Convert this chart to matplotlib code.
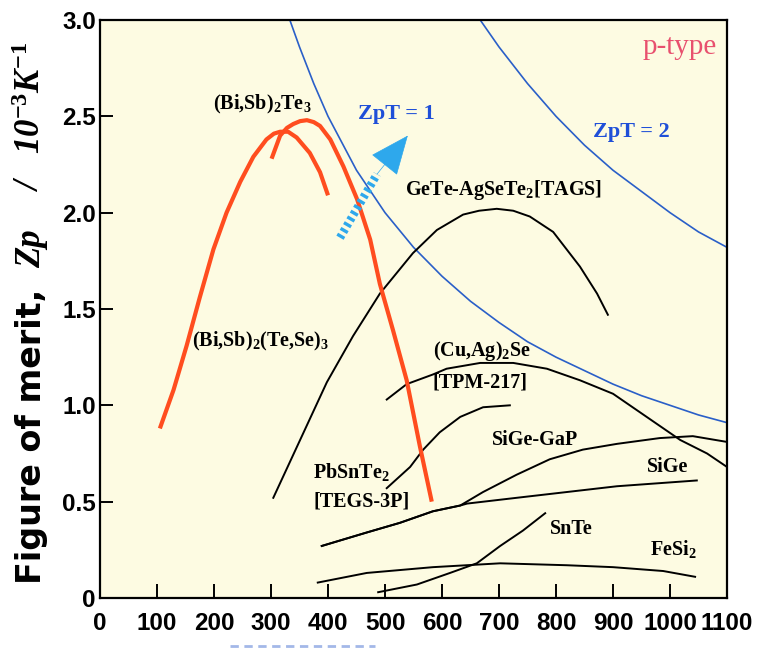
import matplotlib
matplotlib.use("Agg")
import matplotlib.pyplot as plt
from matplotlib.lines import Line2D

# temperatures in K, figure of merit Zp in 1e-3 1/K
bst_T = [105, 129, 152, 175, 199, 222, 246, 269, 292, 305, 316, 330, 345, 368, 386, 400]
bst_Zp = [0.88, 1.08, 1.31, 1.56, 1.81, 2.00, 2.16, 2.29, 2.38, 2.41, 2.42, 2.42, 2.39, 2.31, 2.21, 2.09]

bisbte_T = [301, 316, 328, 339, 351, 363, 375, 386, 404, 427, 451, 474, 491, 514, 538, 561, 582]
bisbte_Zp = [2.28, 2.40, 2.44, 2.46, 2.475, 2.48, 2.47, 2.45, 2.38, 2.24, 2.07, 1.86, 1.63, 1.39, 1.13, 0.79, 0.50]

tags_T = [304, 351, 398, 444, 491, 549, 591, 637, 665, 696, 725, 754, 795, 842, 872, 891]
tags_Zp = [0.52, 0.82, 1.12, 1.36, 1.58, 1.79, 1.91, 1.99, 2.01, 2.02, 2.01, 1.98, 1.90, 1.72, 1.58, 1.47]

cuagse_T = [503, 538, 584, 608, 667, 725, 784, 842, 900, 959, 1018, 1065, 1100]
cuagse_Zp = [1.03, 1.11, 1.16, 1.19, 1.22, 1.22, 1.19, 1.13, 1.06, 0.94, 0.82, 0.75, 0.68]

pbsnte_T = [503, 544, 567, 596, 632, 672, 719]
pbsnte_Zp = [0.57, 0.68, 0.77, 0.86, 0.94, 0.99, 1.00]

sigegap_T = [389, 468, 526, 584, 632, 672, 731, 789, 847, 907, 982, 1040, 1100]
sigegap_Zp = [0.27, 0.34, 0.39, 0.45, 0.48, 0.55, 0.64, 0.72, 0.77, 0.80, 0.83, 0.84, 0.81]

sige_T = [389, 468, 526, 584, 632, 644, 731, 819, 907, 1047]
sige_Zp = [0.27, 0.34, 0.39, 0.45, 0.48, 0.49, 0.52, 0.55, 0.58, 0.61]

snte_T = [488, 556, 614, 661, 702, 742, 781]
snte_Zp = [0.03, 0.07, 0.13, 0.18, 0.27, 0.35, 0.44]

fesi_T = [382, 468, 584, 702, 819, 900, 988, 1044]
fesi_Zp = [0.08, 0.13, 0.16, 0.18, 0.17, 0.16, 0.14, 0.11]

# iso-ZpT guide curves
zt1_T = [333, 350, 375, 400, 450, 500, 550, 600, 650, 700, 750, 800, 850, 900, 950, 1000, 1050, 1100]
zt1_Zp = [3.0, 2.86, 2.67, 2.5, 2.22, 2.0, 1.82, 1.67, 1.54, 1.43, 1.33, 1.25, 1.18, 1.11, 1.05, 1.0, 0.95, 0.91]
zt2_T = [667, 700, 750, 800, 850, 900, 950, 1000, 1050, 1100]
zt2_Zp = [3.0, 2.86, 2.67, 2.5, 2.35, 2.22, 2.11, 2.0, 1.90, 1.82]

x_ticks = [0, 100, 200, 300, 400, 500, 600, 700, 800, 900, 1000, 1100]
y_ticks = [0, 0.5, 1.0, 1.5, 2.0, 2.5, 3.0]
y_ticklabels = ["0", "0.5", "1.0", "1.5", "2.0", "2.5", "3.0"]

arrow_tail = (421, 1.87)
arrow_base = (486, 2.20)
arrow_tip = (540, 2.40)

plt.rcParams["mathtext.fontset"] = "custom"
plt.rcParams["mathtext.rm"] = "Liberation Serif:bold"
plt.rcParams["mathtext.it"] = "Liberation Serif:italic:bold"
plt.rcParams["mathtext.bf"] = "Liberation Serif:bold"

fig = plt.figure(figsize=(7.6, 6.49), dpi=100)
ax = fig.add_axes([0.1316, 0.0786, 0.825, 0.8906])
ax.set_facecolor("#fdfbe2")

orange = "#ff4d1f"
blue = "#2a5fc8"
ax.plot(zt1_T, zt1_Zp, color=blue, lw=1.2)
ax.plot(zt2_T, zt2_Zp, color=blue, lw=1.2)

for T, Z in [(tags_T, tags_Zp), (cuagse_T, cuagse_Zp), (pbsnte_T, pbsnte_Zp),
             (sigegap_T, sigegap_Zp), (sige_T, sige_Zp), (snte_T, snte_Zp),
             (fesi_T, fesi_Zp)]:
    ax.plot(T, Z, color="black", lw=1.4)

ax.plot(bst_T, bst_Zp, color=orange, lw=3.0, solid_capstyle="butt")
ax.plot(bisbte_T, bisbte_Zp, color=orange, lw=3.0, solid_capstyle="butt")

# dashed ZpT arrow
arrow_col = "#2ea8ec"
ax.plot([arrow_tail[0], arrow_base[0]], [arrow_tail[1], arrow_base[1]],
        color=arrow_col, lw=6, ls=(0, (0.4, 0.4)), solid_capstyle="butt")
ax.annotate("", xy=arrow_tip, xytext=arrow_base,
            arrowprops=dict(arrowstyle="-|>,head_length=2.6,head_width=1.1",
                            color=arrow_col, lw=0.5, shrinkA=0, shrinkB=0))

serif = "Liberation Serif"
lab = dict(family=serif, weight="bold", fontsize=14.5, ha="left", va="center")
ax.text(198, 2.56, "(Bi,Sb)$_2$Te$_3$", **lab)
ax.text(161, 1.33, "(Bi,Sb)$_2$(Te,Se)$_3$", **lab)
ax.text(535, 2.12, "GeTe-AgSeTe$_2$[TAGS]", **lab)
ax.text(584, 1.28, "(Cu,Ag)$_2$Se", **lab)
ax.text(584, 1.12, "[TPM-217]", **lab)
ax.text(688, 0.82, "SiGe-GaP", **lab)
ax.text(960, 0.68, "SiGe", **lab)
ax.text(374, 0.655, "PbSnTe$_2$", **lab)
ax.text(374, 0.50, "[TEGS-3P]", **lab)
ax.text(789, 0.36, "SnTe", **lab)
ax.text(965, 0.255, "FeSi$_2$", **lab)

ax.text(453, 2.51, "ZpT = 1", family=serif, weight="bold", fontsize=16,
        color="#1f4fd8", ha="left", va="center")
ax.text(865, 2.42, "ZpT = 2", family=serif, weight="bold", fontsize=16,
        color="#1f4fd8", ha="left", va="center")
ax.text(951, 2.86, "p-type", family=serif, fontsize=21, color="#e8506e",
        ha="left", va="center")

ax.set_xlim(0, 1100)
ax.set_ylim(0, 3.0)
ax.set_xticks(x_ticks)
ax.set_yticks(y_ticks)
ax.set_yticklabels(y_ticklabels)
for t in ax.get_xticklabels() + ax.get_yticklabels():
    t.set_family("Liberation Sans")
    t.set_weight("bold")
    t.set_fontsize(17.5)
ax.tick_params(axis="x", direction="in", length=10, width=1.4, pad=10)
ax.tick_params(axis="y", direction="in", length=9, width=1.4, pad=3)
for s in ax.spines.values():
    s.set_linewidth(1.6)

# rotated y label, pieced together as in the original
ylx = 0.042
fig.text(ylx, 1 - 584 / 649, "Figure of merit,", rotation=90, ha="center",
         va="bottom", family="DejaVu Sans", weight="bold", fontsize=24)
fig.text(ylx, 1 - 268 / 649, "Zp", rotation=90, ha="center", va="bottom",
         family=serif, style="italic", weight="bold", fontsize=25)
fig.text(ylx, 1 - 187 / 649, "/", rotation=90, ha="center", va="center",
         family=serif, style="italic", weight="bold", fontsize=25)
fig.text(ylx, 1 - 42 / 649, "10$^{-3}$K$^{-1}$", rotation=90, ha="center",
         va="top", family=serif, style="italic", weight="bold", fontsize=25)

fig.add_artist(Line2D([230 / 760, 375 / 760], [1 - 646 / 649] * 2,
                      transform=fig.transFigure, color="#a3b8e8", lw=2,
                      ls=(0, (3, 2))))

fig.savefig("out.png", dpi=100)
